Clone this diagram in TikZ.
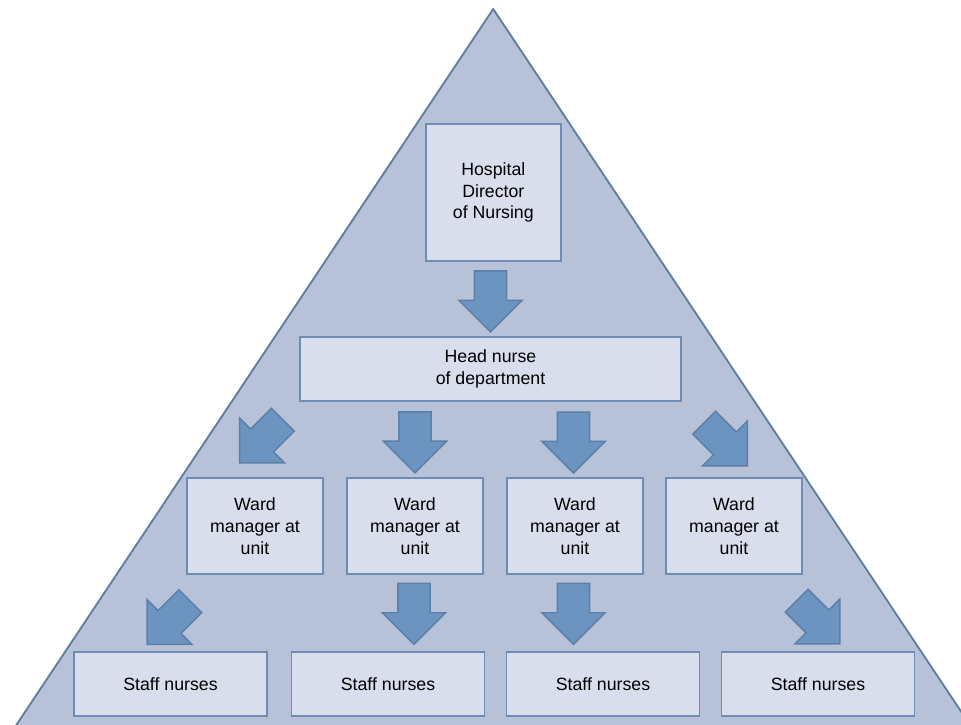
\documentclass[tikz,border=0pt]{standalone}
\usepackage{fontspec}
\setmainfont{Liberation Sans}
\usetikzlibrary{shapes.arrows}

\definecolor{tribg}{HTML}{B7C2D9}
\definecolor{triline}{HTML}{5F7D9E}
\definecolor{boxbg}{HTML}{D9DEED}
\definecolor{boxline}{HTML}{6F8CB5}
\definecolor{arrbg}{HTML}{6C94C0}
\definecolor{arrline}{HTML}{5C7FA8}

\begin{document}
\begin{tikzpicture}[x=0.75pt,y=-0.75pt]

        \useasboundingbox (0,0) rectangle (961,725);

        % pyramid
        \begin{scope}
          \clip (0,0) rectangle (961,725);
          \draw[triline,fill=tribg,line width=1.4pt,line join=round]
            (493.2,9) -- (976.7,735) -- (9.7,735) -- cycle;
        \end{scope}

        \begin{scope}[every node/.style={draw=boxline,fill=boxbg,line width=1.4pt,
            align=center,inner sep=0pt,font=\fontsize{13.3}{16.3}\selectfont}]
          \node[minimum width=101.5pt,minimum height=102.75pt] (dir) at (493.3,192.5)
            {Hospital\\Director\\of Nursing};
          \node[minimum width=285.75pt,minimum height=48pt] (head) at (490.5,368.7)
            {Head nurse\\of department};

          \begin{scope}[minimum width=102pt,minimum height=72pt]
            \node (w1) at (255,526) {Ward\\manager at\\unit};
            \node (w2) at (415,526) {Ward\\manager at\\unit};
            \node (w3) at (575,526) {Ward\\manager at\\unit};
            \node (w4) at (734,526) {Ward\\manager at\\unit};
          \end{scope}

          \begin{scope}[minimum width=144.75pt,minimum height=48pt]
            \node (s1) at (170.5,684) {Staff nurses};
            \node (s2) at (388,684)   {Staff nurses};
            \node (s3) at (603,684)   {Staff nurses};
            \node (s4) at (818,684)   {Staff nurses};
          \end{scope}
        \end{scope}

        \begin{scope}[every node/.style={single arrow,draw=arrline,fill=arrbg,line width=1.1pt,
            minimum height=45.75pt,minimum width=46.5pt,single arrow head extend=11.6pt,
            inner xsep=0pt,inner ysep=11.6pt}]
          \node[rotate=-90]  (a0) at (490.5,293.3) {};

          \node[rotate=-135] (b1) at (267,435.5)   {};
          \node[rotate=-90]  (b2) at (415,434.2)   {};
          \node[rotate=-90]  (b3) at (573.5,434.5) {};
          \node[rotate=-45]  (b4) at (720,438.5)   {};

          \node[rotate=-135] (c1) at (174.5,617)   {};
          \node[rotate=-90]  (c2) at (414,605.8)   {};
          \node[rotate=-90]  (c3) at (573.5,605.8) {};
          \node[rotate=-45]  (c4) at (812.5,616.5) {};
        \end{scope}

      \end{tikzpicture}
\end{document}
